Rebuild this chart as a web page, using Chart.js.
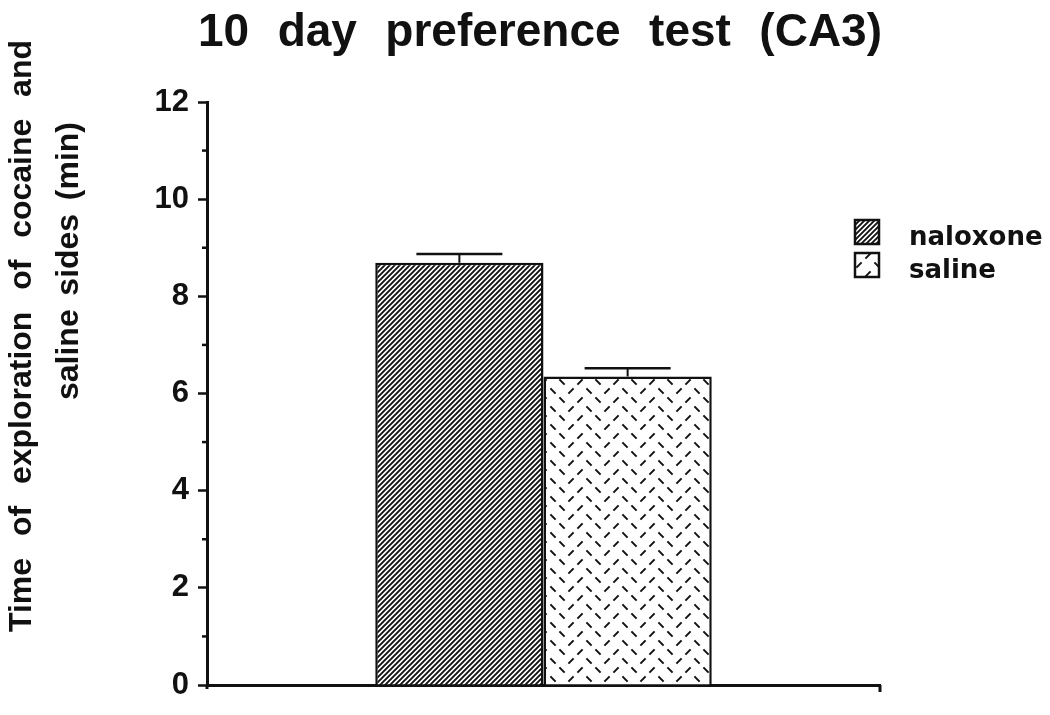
<!DOCTYPE html>
<html>
<head>
<meta charset="utf-8">
<title>10 day preference test (CA3)</title>
<script src="https://cdn.jsdelivr.net/npm/chart.js@4.4.0/dist/chart.umd.min.js"></script>
<style>
  body { margin: 0; background: #fff; }
  #wrap { width: 1050px; height: 715px; }
</style>
</head>
<body>
<div id="wrap"><canvas id="prefChart" width="1050" height="715"></canvas></div>
<script>
// data
const groups = ['naloxone', 'saline'];
const means = [8.69, 6.35];
const errors = [0.18, 0.17];
const yTicks = [0, 2, 4, 6, 8, 10, 12];
const yMinorTicks = [1, 3, 5, 7, 9, 11];
const titleText = '10 day preference test (CA3)';
const yTitleLines = ['Time of exploration of cocaine and', 'saline sides (min)'];

const canvas = document.getElementById('prefChart');
const ctx = canvas.getContext('2d');

// diagonal hatch for naloxone
function hatchPattern() {
  const t = document.createElement('canvas');
  t.width = 5; t.height = 5;
  const c = t.getContext('2d');
  c.fillStyle = '#fff';
  c.fillRect(0, 0, 5, 5);
  c.strokeStyle = '#111';
  c.lineWidth = 1.9;
  c.beginPath();
  c.moveTo(-1, 6); c.lineTo(6, -1);
  c.moveTo(-1, 1); c.lineTo(1, -1);
  c.moveTo(4, 6); c.lineTo(6, 4);
  c.stroke();
  return ctx.createPattern(t, 'repeat');
}

// scattered short dashes for saline
function dashPattern() {
  const t = document.createElement('canvas');
  t.width = 36; t.height = 18;
  const c = t.getContext('2d');
  c.fillStyle = '#fff';
  c.fillRect(0, 0, 36, 18);
  c.strokeStyle = '#111';
  c.lineWidth = 2;
  const dashes = [[4, 4, 1], [22, 4, -1], [13, 13, -1], [31, 13, 1]];
  c.beginPath();
  dashes.forEach(([x, y, s]) => {
    c.moveTo(x - 2.6, y + 2.6 * s);
    c.lineTo(x + 2.6, y - 2.6 * s);
  });
  c.stroke();
  return ctx.createPattern(t, 'repeat');
}

const fills = [hatchPattern(), dashPattern()];

// spread words so the line runs from a to b
function drawSpread(c, text, a, b, y) {
  const words = text.split(' ');
  const widths = words.map(w => c.measureText(w).width);
  const total = widths.reduce((s, w) => s + w, 0);
  const gap = (b - a - total) / (words.length - 1);
  let x = a;
  words.forEach((w, i) => {
    c.fillText(w, x, y);
    x += widths[i] + gap;
  });
}

const extras = {
  id: 'extras',
  afterDatasetsDraw(chart) {
    const c = chart.ctx;
    const y = chart.scales.y;
    c.save();
    c.strokeStyle = '#111';
    chart.data.datasets.forEach((ds, i) => {
      const bar = chart.getDatasetMeta(i).data[0];
      const top = y.getPixelForValue(ds.data[0] + errors[i]);
      c.lineWidth = 2;
      c.beginPath();
      c.moveTo(bar.x, bar.y);
      c.lineTo(bar.x, top);
      c.stroke();
      c.lineWidth = 2.5;
      c.beginPath();
      c.moveTo(bar.x - 43, top);
      c.lineTo(bar.x + 43, top);
      c.stroke();
    });
    c.restore();
  },
  afterDraw(chart) {
    const c = chart.ctx;
    const area = chart.chartArea;
    const y = chart.scales.y;
    c.save();
    c.fillStyle = '#111';
    c.strokeStyle = '#111';

    // minor ticks
    c.lineWidth = 2.5;
    yMinorTicks.forEach(v => {
      const p = y.getPixelForValue(v);
      c.beginPath();
      c.moveTo(area.left - 5, p);
      c.lineTo(area.left, p);
      c.stroke();
    });
    // small overhangs at the axis ends
    c.lineWidth = 3;
    c.beginPath();
    c.moveTo(area.left, area.bottom);
    c.lineTo(area.left, area.bottom + 4);
    c.moveTo(area.right, area.bottom);
    c.lineTo(area.right, area.bottom + 7);
    c.stroke();

    // title
    c.font = 'bold 46px "Liberation Sans", Arial, sans-serif';
    c.textBaseline = 'alphabetic';
    c.textAlign = 'left';
    drawSpread(c, titleText, 198, 882, 46);

    // y axis title, two rotated lines
    c.font = 'bold 32px "Liberation Sans", Arial, sans-serif';
    c.save();
    c.translate(31, 632);
    c.rotate(-Math.PI / 2);
    drawSpread(c, yTitleLines[0], 0, 592, 0);
    c.restore();
    c.save();
    c.translate(78, 400);
    c.rotate(-Math.PI / 2);
    drawSpread(c, yTitleLines[1], 0, 278, 0);
    c.restore();

    // legend
    const rows = [232, 265];
    c.font = 'bold 26px "DejaVu Sans", sans-serif';
    c.textBaseline = 'alphabetic';
    groups.forEach((g, i) => {
      const cy = rows[i];
      c.fillStyle = fills[i];
      c.fillRect(855, cy - 12, 24, 24);
      c.lineWidth = 2.5;
      c.strokeRect(855, cy - 12, 24, 24);
      c.fillStyle = '#111';
      c.fillText(g, 909, cy + 13);
    });
    c.restore();
  }
};

new Chart(canvas, {
  type: 'bar',
  data: {
    labels: [''],
    datasets: groups.map((g, i) => ({
      label: g,
      data: [means[i]],
      backgroundColor: fills[i],
      borderColor: '#111',
      borderWidth: 2.5,
      borderSkipped: 'bottom',
      categoryPercentage: 0.5,
      barPercentage: 1.0
    }))
  },
  options: {
    responsive: false,
    animation: false,
    layout: { padding: { top: 102, right: 170, bottom: 30, left: 0 } },
    plugins: {
      legend: { display: false },
      title: { display: false },
      tooltip: { enabled: false }
    },
    scales: {
      x: {
        grid: { display: false },
        border: { display: true, color: '#111', width: 3 },
        ticks: { display: false },
        afterFit(scale) { scale.height = 0; }
      },
      y: {
        min: 0,
        max: 12,
        afterBuildTicks(scale) { scale.ticks = yTicks.map(v => ({ value: v })); },
        ticks: {
          color: '#111',
          padding: 9,
          font: { family: '"Liberation Sans", Arial, sans-serif', size: 31, weight: 'bold' }
        },
        grid: { drawOnChartArea: false, tickLength: 9, tickWidth: 2.5, tickColor: '#111' },
        border: { display: true, color: '#111', width: 3 },
        afterFit(scale) { scale.width = 207; }
      }
    }
  },
  plugins: [extras]
});
</script>
</body>
</html>
